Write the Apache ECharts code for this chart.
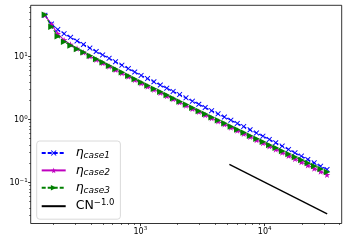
<!DOCTYPE html>
<html>
<head>
<meta charset="utf-8">
<script src="https://cdn.jsdelivr.net/npm/echarts@6/dist/echarts.min.js"></script>
<style>html,body{margin:0;padding:0;background:#fff}#c{width:349px;height:244px}</style>
</head>
<body>
<div id="c"></div>
<script>
const N = [171,193,217,244,275,310,349,393,442,498,561,632,711,801,902,1015,1143,1287,1449,1632,1837,2069,2329,2623,2953,3325,3744,4216,4747,5345,6019,6777,7631,8593,9675,10894,12267,13813,15553,17513,19719,22204,25001,28151,31698];
const etaCase1 = [45.4,33.0,26.9,23.2,20.3,17.8,15.6,13.7,12.1,10.67,9.41,8.31,7.34,6.48,5.71,5.05,4.49,4.00,3.55,3.16,2.81,2.50,2.22,1.97,1.756,1.562,1.391,1.238,1.102,0.981,0.873,0.777,0.692,0.616,0.548,0.486,0.430,0.381,0.337,0.298,0.264,0.2335,0.2066,0.1828,0.1618];
const etaCase2 = [46.0,32.3,23.1,18.3,15.6,13.5,11.7,10.16,8.97,7.93,7.01,6.19,5.48,4.84,4.28,3.79,3.37,3.00,2.67,2.38,2.12,1.886,1.680,1.495,1.331,1.186,1.058,0.944,0.843,0.752,0.671,0.599,0.534,0.477,0.425,0.379,0.3375,0.3007,0.2678,0.2385,0.2124,0.1891,0.1684,0.1500,0.1337];
const etaCase3 = [46.5,29.9,21.1,17.3,15.1,13.3,11.75,10.37,9.19,8.14,7.20,6.37,5.65,5.00,4.43,3.92,3.49,3.11,2.77,2.46,2.19,1.952,1.739,1.548,1.377,1.228,1.097,0.980,0.876,0.782,0.699,0.624,0.558,0.498,0.445,0.398,0.357,0.3195,0.2861,0.2563,0.2295,0.2055,0.1840,0.1648,0.1476];
const refN = [5200, 31800];
const refY = [0.196, 0.0321];
const xMajorTicks = [1000, 10000];
const xMinorTicks = [200,300,400,500,600,700,800,900,2000,3000,4000,5000,6000,7000,8000,9000,20000,30000,40000];
const yMajorTicks = [0.1, 1, 10];
const yMinorTicks = [0.03,0.04,0.05,0.06,0.07,0.08,0.09,0.2,0.3,0.4,0.5,0.6,0.7,0.8,0.9,2,3,4,5,6,7,8,9,20,30,40,50,60];
const seriesNames = ['case1','case2','case3','ref'];

const zip = (xs, ys) => xs.map((x, i) => [x, ys[i]]);
const X_PATH = 'path://M0,1.2 L1.2,0 L5,3.8 L8.8,0 L10,1.2 L6.2,5 L10,8.8 L8.8,10 L5,6.2 L1.2,10 L0,8.8 L3.8,5 Z';
const STAR_PATH = 'path://M5,0 L6.18,3.62 L10,3.62 L6.9,5.86 L8.09,9.5 L5,7.26 L1.91,9.5 L3.1,5.86 L0,3.62 L3.82,3.62 Z';
const TRI_PATH = 'path://M0,0 L10,5 L0,10 Z';

function expLabel(v) {
  const e = Math.round(Math.log10(v));
  return '{b|10}{s|' + (e < 0 ? '\u2212' + (-e) : e) + '}';
}
const labelRich = {
  b: {fontSize: 8, fontFamily: 'DejaVu Sans', color: '#000', lineHeight: 10},
  s: {fontSize: 5.5, fontFamily: 'DejaVu Sans', color: '#000', lineHeight: 10, padding: [0,0,5,0]}
};
const xmin = 131.5, xmax = 41600, ymin = 0.0225, ymax = 65.4;

const chart = echarts.init(document.getElementById('c'), null, {renderer: 'canvas'});
chart.setOption({
  animation: false,
  backgroundColor: '#fff',
  grid: {left: 30.7, top: 5.3, right: 7.3, bottom: 20.5, show: true, borderColor: '#000', borderWidth: 0.8, backgroundColor: 'transparent'},
  xAxis: [
    {type: 'log', logBase: 10, min: xmin, max: xmax, position: 'bottom',
     axisLine: {show: false},
     axisTick: {show: true, inside: false, length: 2.6, lineStyle: {color: '#000', width: 0.8}, customValues: xMajorTicks},
     axisLabel: {show: true, margin: 3, customValues: xMajorTicks, formatter: expLabel, rich: labelRich},
     splitLine: {show: false}},
    {type: 'log', logBase: 10, min: xmin, max: xmax, position: 'bottom',
     axisLine: {show: false},
     axisTick: {show: true, inside: false, length: 1.5, lineStyle: {color: '#000', width: 0.6}, customValues: xMinorTicks},
     axisLabel: {show: false},
     splitLine: {show: false}}
  ],
  yAxis: [
    {type: 'log', logBase: 10, min: ymin, max: ymax, position: 'left',
     axisLine: {show: false},
     axisTick: {show: true, inside: false, length: 2.6, lineStyle: {color: '#000', width: 0.8}, customValues: yMajorTicks},
     axisLabel: {show: true, margin: 3, customValues: yMajorTicks, formatter: expLabel, rich: labelRich},
     splitLine: {show: false}},
    {type: 'log', logBase: 10, min: ymin, max: ymax, position: 'left',
     axisLine: {show: false},
     axisTick: {show: true, inside: false, length: 1.5, lineStyle: {color: '#000', width: 0.6}, customValues: yMinorTicks},
     axisLabel: {show: false},
     splitLine: {show: false}}
  ],
  legend: {
    orient: 'vertical', left: 36.7, top: 141,
    padding: [5, 6, 5, 4],
    itemWidth: 24, itemHeight: 7, itemGap: 3.4,
    backgroundColor: 'rgba(255,255,255,0.8)', borderColor: '#d0d0d0', borderWidth: 0.8, borderRadius: 3,
    data: seriesNames,
    formatter: function (name) {
      if (name === 'ref') return '{p|}{n|CN}{sp|\u22121.0}';
      return '{p|}{e|\u03b7}{sb|' + name + '}';
    },
    textStyle: {
      color: '#000', fontFamily: 'DejaVu Sans',
      rich: {
        p: {width: 5, lineHeight: 14},
        e: {fontSize: 12.5, fontStyle: 'italic', fontFamily: 'DejaVu Sans', lineHeight: 14},
        sb: {fontSize: 9, fontStyle: 'italic', fontFamily: 'DejaVu Sans', lineHeight: 14, padding: [5,0,0,0]},
        n: {fontSize: 12.5, fontFamily: 'DejaVu Sans', lineHeight: 14},
        sp: {fontSize: 8.5, fontFamily: 'DejaVu Sans', lineHeight: 14, padding: [0,0,7,0]}
      }
    }
  },
  series: [
    {name: 'case1', type: 'line', xAxisIndex: 0, yAxisIndex: 0, data: zip(N, etaCase1),
     symbol: X_PATH, symbolSize: 5.5, showAllSymbol: true,
     lineStyle: {color: '#0000ff', width: 1.1, type: [4, 2]}, itemStyle: {color: '#0000ff'}},
    {name: 'case2', type: 'line', xAxisIndex: 0, yAxisIndex: 0, data: zip(N, etaCase2),
     symbol: STAR_PATH, symbolSize: 6.5, showAllSymbol: true,
     lineStyle: {color: '#bf00bf', width: 1.1}, itemStyle: {color: '#bf00bf'}},
    {name: 'case3', type: 'line', xAxisIndex: 0, yAxisIndex: 0, data: zip(N, etaCase3),
     symbol: TRI_PATH, symbolSize: 6.5, showAllSymbol: true,
     lineStyle: {color: '#008000', width: 1.1, type: [4, 2]}, itemStyle: {color: '#008000'}},
    {name: 'ref', type: 'line', xAxisIndex: 0, yAxisIndex: 0, data: zip(refN, refY),
     symbol: 'circle', showSymbol: false, lineStyle: {color: '#000', width: 1.4},
     itemStyle: {color: 'rgba(0,0,0,0)', borderWidth: 0}}
  ]
});
</script>
</body>
</html>
